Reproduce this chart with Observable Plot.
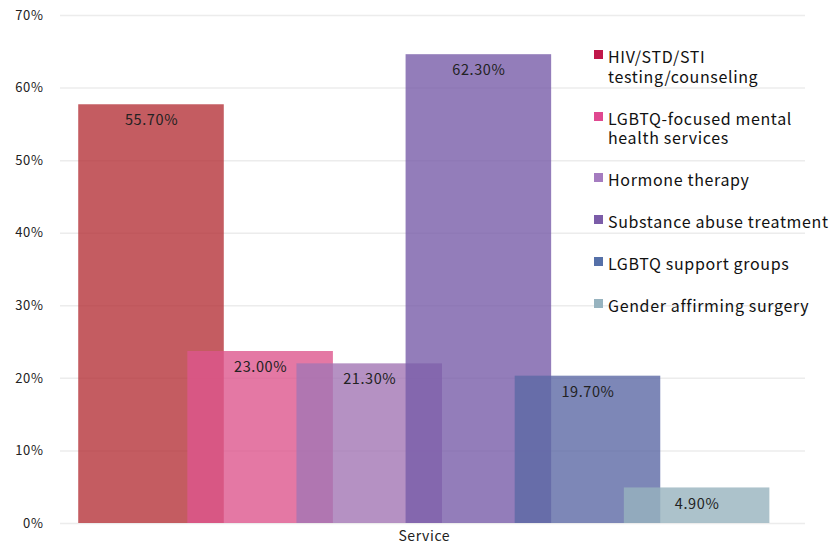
<!DOCTYPE html>
<html>
<head>
<meta charset="utf-8">
<script src="https://cdn.jsdelivr.net/npm/d3@7"></script>
<script src="https://cdn.jsdelivr.net/npm/@observablehq/plot@0.6"></script>
<style>
  body { margin: 0; background: #fff; font-family: "Noto Sans CJK JP", "Noto Sans", sans-serif; }
  #wrap { position: relative; width: 835px; height: 546px; }
  #legend { position: absolute; left: 594px; top: 47px; color: #111; font-size: 16px; line-height: 19.5px; letter-spacing: 0.65px; }
  .item { display: flex; align-items: flex-start; margin-bottom: 22.5px; }
  .sw { width: 9px; height: 9px; margin-top: 3px; margin-right: 5px; flex: none; }
  .line { display: block; height: 19.5px; white-space: nowrap; }
  svg text { letter-spacing: 0.6px; }
</style>
</head>
<body>
<div id="wrap"><div id="chart"></div><div id="legend"></div></div>
<script>
const services = [
  "HIV/STD/STI testing/counseling",
  "LGBTQ-focused mental health services",
  "Hormone therapy",
  "Substance abuse treatment",
  "LGBTQ support groups",
  "Gender affirming surgery"
];
const legendLines = [
  ["HIV/STD/STI", "testing/counseling"],
  ["LGBTQ-focused mental", "health services"],
  ["Hormone therapy"],
  ["Substance abuse treatment"],
  ["LGBTQ support groups"],
  ["Gender affirming surgery"]
];
// bar heights as drawn in the picture (percent)
const barValues = [57.7, 23.7, 22.0, 64.6, 20.3, 4.9];
// value labels as printed on the bars
const labelTexts = ["55.70%", "23.00%", "21.30%", "62.30%", "19.70%", "4.90%"];
const barColors = ["#b5333a", "#dd568d", "#a276b4", "#785ca9", "#5d69a5", "#97b3be"];
const legendColors = ["#c0174a", "#e04890", "#a57cc0", "#7b5ca8", "#5570a8", "#97b3bf"];
const yTicks = [0, 10, 20, 30, 40, 50, 60, 70];
const xAxisLabel = "Service";

const data = services.map((s, i) => ({
  service: s, i, v: barValues[i], label: labelTexts[i], color: barColors[i]
}));

const chart = Plot.plot({
  width: 835,
  height: 546,
  marginLeft: 60,
  marginRight: 30,
  marginTop: 15,
  marginBottom: 23,
  style: { fontFamily: '"Noto Sans CJK JP", "Noto Sans", sans-serif', background: "#fff" },
  x: { type: "linear", domain: [0, 5], range: [151, 696.6], axis: null, label: null },
  y: { domain: [0, 70], axis: null, label: null },
  color: { type: "identity" },
  marks: [
    Plot.gridY(yTicks, { stroke: "#ececec", strokeOpacity: 1, strokeWidth: 1.5 }),
    Plot.rect(data, {
      x1: d => d.i - 0.667, x2: d => d.i + 0.667,
      y1: 0, y2: "v", fill: "color", fillOpacity: 0.8
    }),
    Plot.text(data, { x: "i", y: "v", dy: 16, text: "label", fontSize: 14.5, fill: "#222" }),
    Plot.axisY({ ticks: yTicks, tickFormat: d => d + "%", tickSize: 0, tickPadding: 17, fontSize: 13, color: "#222", label: null }),
    Plot.axisX({ ticks: [2.5], tickFormat: () => xAxisLabel, tickSize: 0, tickPadding: 8, fontSize: 14, color: "#222", label: null })
  ]
});
document.getElementById("chart").appendChild(chart);

const legend = document.getElementById("legend");
legendLines.forEach((lines, i) => {
  const item = document.createElement("div");
  item.className = "item";
  const sw = document.createElement("div");
  sw.className = "sw";
  sw.style.background = legendColors[i];
  const txt = document.createElement("div");
  lines.forEach(l => {
    const s = document.createElement("span");
    s.className = "line";
    s.textContent = l;
    txt.appendChild(s);
  });
  item.appendChild(sw);
  item.appendChild(txt);
  legend.appendChild(item);
});
</script>
</body>
</html>
